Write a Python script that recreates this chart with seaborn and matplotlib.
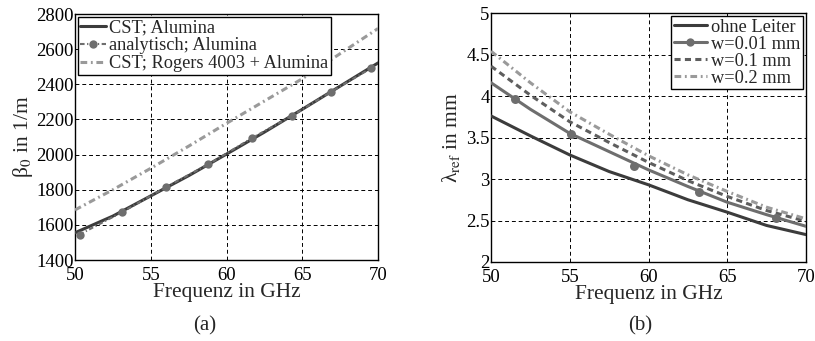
import matplotlib
matplotlib.use("Agg")
import matplotlib.pyplot as plt
import seaborn as sns
import pandas as pd
from matplotlib.lines import Line2D

# ---- data (a) ----
freq_a = [50, 52.5, 55, 57.5, 60, 62.5, 65, 67.5, 70]
cst_alumina = [1555, 1650, 1765, 1880, 2003, 2128, 2258, 2390, 2522]
analyt_freq = [50.3, 53.1, 56.0, 58.8, 61.7, 64.3, 66.9, 69.5]
analyt_alumina = [1545, 1672, 1815, 1945, 2095, 2220, 2358, 2490]
cst_rogers = [1685, 1800, 1922, 2048, 2178, 2305, 2432, 2575, 2718]
labels_a = ["CST; Alumina", "analytisch; Alumina", "CST; Rogers 4003 + Alumina"]

# ---- data (b) ----
freq_b = [50, 52.5, 55, 57.5, 60, 62.5, 65, 67.5, 70]
ohne = [3.76, 3.52, 3.29, 3.09, 2.93, 2.75, 2.60, 2.44, 2.33]
w001 = [4.16, 3.84, 3.55, 3.33, 3.11, 2.91, 2.72, 2.57, 2.43]
w001_mfreq = [51.5, 55.1, 59.1, 63.2, 68.1]
w001_mval = [3.97, 3.54, 3.16, 2.84, 2.535]
w01 = [4.36, 4.01, 3.69, 3.44, 3.20, 2.98, 2.79, 2.62, 2.49]
w02 = [4.54, 4.16, 3.81, 3.54, 3.28, 3.05, 2.85, 2.66, 2.52]
labels_b = ["ohne Leiter", "w=0.01 mm", "w=0.1 mm", "w=0.2 mm"]

sns.set_theme(style="white")
plt.rcParams["font.family"] = ["Liberation Serif", "DejaVu Serif"]
plt.rcParams["mathtext.fontset"] = "stix"

fig = plt.figure(figsize=(8.15, 3.41), dpi=100)
axA = fig.add_axes([0.092, 0.2375, 0.372, 0.7214])
axB = fig.add_axes([0.6025, 0.2317, 0.3865, 0.730])

c_dark = "#3c3c3c"
c_mid = "#6e6e6e"
c_mid2 = "#5e5e5e"
c_light = "#9a9a9a"
dash_ls = (0, (2.0, 1.4))
dashdot_ls = (0, (2.2, 1.2, 0.6, 1.2))

# (a)
sns.lineplot(x=freq_a, y=cst_alumina, ax=axA, color=c_dark, lw=2.2, zorder=3)
sns.lineplot(x=analyt_freq, y=analyt_alumina, ax=axA, color=c_mid, lw=1.5,
             linestyle=dashdot_ls, marker="o", markersize=6, markeredgewidth=0, zorder=4)
sns.lineplot(x=freq_a, y=cst_rogers, ax=axA, color=c_light, lw=2.2,
             linestyle=dashdot_ls, zorder=3)
axA.set_xlim(50, 70)
axA.set_ylim(1400, 2800)
axA.set_xticks([50, 55, 60, 65, 70])
axA.set_yticks(range(1400, 2801, 200))
axA.set_xlabel("Frequenz in GHz", fontsize=15.5, labelpad=-1)
axA.set_ylabel(r"β$_0$ in 1/m", fontsize=15.5, labelpad=1)
hA = [Line2D([], [], color=c_dark, lw=2.2),
      Line2D([], [], color=c_mid, lw=1.5, ls=dashdot_ls, marker="o", markersize=6, markeredgewidth=0),
      Line2D([], [], color=c_light, lw=2.2, ls=dashdot_ls)]
legA = axA.legend(hA, labels_a, loc="upper left", fontsize=13.2, frameon=True,
                  fancybox=False, borderpad=0.15, labelspacing=0.05,
                  handlelength=1.4, handletextpad=0.15, borderaxespad=0.15)

# (b)
sns.lineplot(x=freq_b, y=ohne, ax=axB, color=c_dark, lw=2.2, zorder=3)
sns.lineplot(x=freq_b, y=w001, ax=axB, color=c_mid, lw=2.2, zorder=3)
sns.scatterplot(x=w001_mfreq, y=w001_mval, ax=axB, color=c_mid, s=42,
                linewidth=0, zorder=4)
sns.lineplot(x=freq_b, y=w01, ax=axB, color=c_mid2, lw=2.2, linestyle=dash_ls, zorder=3)
sns.lineplot(x=freq_b, y=w02, ax=axB, color=c_light, lw=2.2, linestyle=dashdot_ls, zorder=3)
axB.set_xlim(50, 70)
axB.set_ylim(2, 5)
axB.set_xticks([50, 55, 60, 65, 70])
axB.set_yticks([2, 2.5, 3, 3.5, 4, 4.5, 5])
axB.set_yticklabels(["2", "2.5", "3", "3.5", "4", "4.5", "5"])
axB.set_xlabel("Frequenz in GHz", fontsize=15.5, labelpad=-1)
axB.set_ylabel(r"λ$_\mathrm{ref}$ in mm", fontsize=15.5, labelpad=3)
hB = [Line2D([], [], color=c_dark, lw=2.2),
      Line2D([], [], color=c_mid, lw=2.2, marker="o", markersize=6, markeredgewidth=0),
      Line2D([], [], color=c_mid2, lw=2.2, ls=dash_ls),
      Line2D([], [], color=c_light, lw=2.2, ls=dashdot_ls)]
legB = axB.legend(hB, labels_b, loc="upper right", fontsize=13.2, frameon=True,
                  fancybox=False, borderpad=0.15, labelspacing=0.0,
                  handlelength=1.8, handletextpad=0.25, borderaxespad=0.15)

for ax, leg in ((axA, legA), (axB, legB)):
    ax.grid(True, color="black", linestyle=(0, (4, 3)), lw=0.7)
    ax.set_axisbelow(True)
    for s in ax.spines.values():
        s.set_color("black")
        s.set_linewidth(1.0)
    ax.tick_params(axis="both", labelsize=13.5, colors="black", direction="in",
                   length=3)
    ax.tick_params(axis="x", pad=5)
    ax.tick_params(axis="y", pad=1)
    leg.get_frame().set_edgecolor("black")
    leg.get_frame().set_linewidth(1.0)
    leg.get_frame().set_alpha(1)

fig.text(205 / 815, 0.045, "(a)", ha="center", va="center", fontsize=15)
fig.text(640 / 815, 0.045, "(b)", ha="center", va="center", fontsize=15)

fig.savefig("out.png", dpi=100, facecolor="white")
